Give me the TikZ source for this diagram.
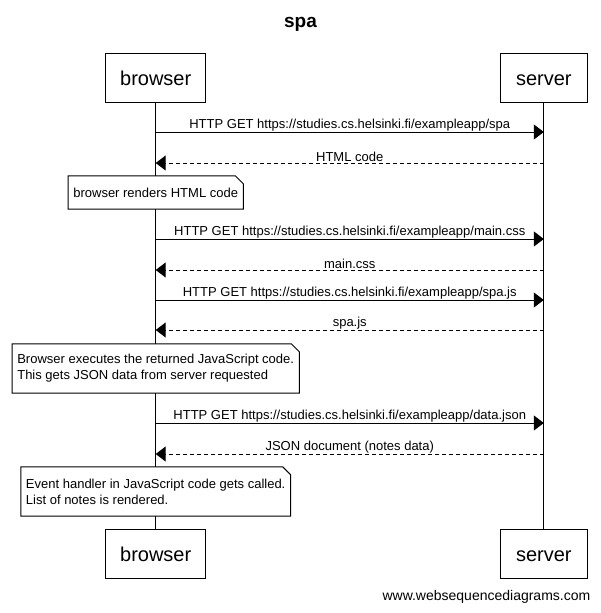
\documentclass[tikz,border=0pt]{standalone}
\usepackage{fontspec}
\setmainfont{Liberation Sans}
\usetikzlibrary{arrows.meta,calc}

\begin{document}
\begin{tikzpicture}[x=1pt,y=1pt,yscale=-1,
    actor/.style={draw,line width=1pt,minimum width=100,minimum height=49,inner sep=0pt,text height=15,text depth=0,font=\fontsize{20}{24}\selectfont},
    notebox/.style={align=left,inner xsep=5pt,inner ysep=0pt,font=\fontsize{13}{16}\selectfont},
    call/.style={line width=1pt,-{Triangle[length=10pt,width=15pt]}},
    reply/.style={call,dash pattern=on 4pt off 3pt},
    lbl/.style={above,inner sep=0.5pt,font=\fontsize{13}{15}\selectfont}]
        \useasboundingbox (0,0) rectangle (601,613);

        % Title
        \node (title) at (300.5,24) {\fontsize{19}{22}\selectfont\bfseries spa};

        % Participants
        \node[actor] (browser) at (155.7,77.5) {browser};
        \node[actor,minimum width=87] (server) at (543.8,77.5) {server};
        \node[actor] (browserend) at (155.7,553.5) {browser};
        \node[actor,minimum width=87] (serverend) at (543.8,553.5) {server};

        % Lifelines
        \draw[line width=1pt] (browser.south) -- (browserend.north);
        \draw[line width=1pt] (server.south) -- (serverend.north);

        % Points on the lifelines
        \foreach \y [count=\i] in {132,163,239,270,300,330,423,454} {
            \coordinate (b\i) at (browser |- 0,\y);
            \coordinate (s\i) at (server |- 0,\y);
        }

        % Messages
        \draw[call] (b1) -- node[lbl] {HTTP GET https://studies.cs.helsinki.fi/exampleapp/spa} (s1);
        \draw[reply] (s2) -- node[lbl] {HTML code} (b2);
        \draw[call] (b3) -- node[lbl] {HTTP GET https://studies.cs.helsinki.fi/exampleapp/main.css} (s3);
        \draw[reply] (s4) -- node[lbl] {main.css} (b4);
        \draw[call] (b5) -- node[lbl] {HTTP GET https://studies.cs.helsinki.fi/exampleapp/spa.js} (s5);
        \draw[reply] (s6) -- node[lbl] {spa.js} (b6);
        \draw[call] (b7) -- node[lbl] {HTTP GET https://studies.cs.helsinki.fi/exampleapp/data.json} (s7);
        \draw[reply] (s8) -- node[lbl] {JSON document (notes data)} (b8);

        % Notes
        \node[notebox,minimum height=33] (render) at (browser |- 0,192.5) {browser renders HTML code};
        \node[notebox,minimum height=49] (execute) at (browser |- 0,368.5) {Browser executes the returned JavaScript code.\\This gets JSON data from server requested};
        \node[notebox,minimum height=49] (handler) at (browser |- 0,491.5) {Event handler in JavaScript code gets called.\\List of notes is rendered.};
        \foreach \n in {render,execute,handler} {
            \fill[white] (\n.north west) rectangle (\n.south east);
            \draw[line width=1pt] (\n.south west) -- (\n.north west) -- ($(\n.north east)+(-8,0)$) -- ($(\n.north east)+(0,8)$) -- (\n.south east) -- cycle;
        }
        \node[notebox,minimum height=33] at (render) {browser renders HTML code};
        \node[notebox,minimum height=49] at (execute) {Browser executes the returned JavaScript code.\\This gets JSON data from server requested};
        \node[notebox,minimum height=49] at (handler) {Event handler in JavaScript code gets called.\\List of notes is rendered.};

        % Footer
        \node[anchor=east,inner sep=0pt,font=\fontsize{14}{16}\selectfont] (footer) at (590.5,597) {www.websequencediagrams.com};
\end{tikzpicture}
\end{document}
